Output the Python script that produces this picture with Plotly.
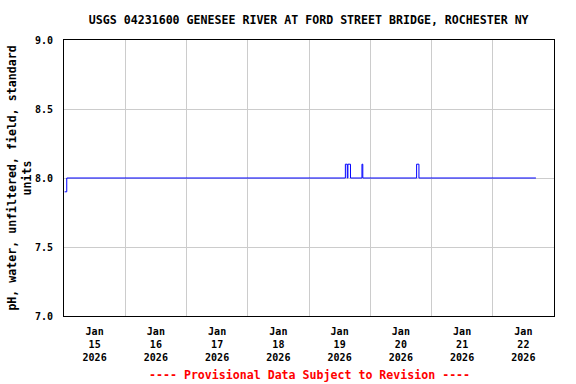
import plotly.graph_objects as go

# Step-change points of the pH record (value holds until next time)
times = [
    "2026-01-15 00:15", "2026-01-15 01:05",
    "2026-01-19 14:15", "2026-01-19 15:00", "2026-01-19 15:15", "2026-01-19 16:15",
    "2026-01-19 20:45", "2026-01-19 21:05",
    "2026-01-20 18:10", "2026-01-20 19:05",
    "2026-01-22 16:55",
]
values = [7.9, 8.0, 8.1, 8.0, 8.1, 8.0, 8.1, 8.0, 8.1, 8.0, 8.0]

tick_vals = ["2026-01-%02d 12:00" % d for d in range(15, 23)]
tick_text = ["Jan<br>%d<br>2026" % d for d in range(15, 23)]

title_text = "USGS 04231600 GENESEE RIVER AT FORD STREET BRIDGE, ROCHESTER NY"
y_title = "pH, water, unfiltered, field, standard<br>units"
footer = "---- Provisional Data Subject to Revision ----"

mono = "DejaVu Sans Mono"

fig = go.Figure()
fig.add_trace(go.Scatter(
    x=times, y=values, mode="lines", line=dict(color="#0000ff", width=1, shape="hv"),
    hoverinfo="skip", showlegend=False,
))

fig.update_layout(
    width=576, height=384,
    margin=dict(l=64, r=22, t=40, b=68, autoexpand=False),
    paper_bgcolor="white", plot_bgcolor="white",
    title=dict(text=title_text, x=0.536, xanchor="center", y=0.948, yanchor="middle",
               font=dict(family=mono, size=11.6, color="black", weight="bold")),
    annotations=[dict(text=footer, xref="paper", yref="paper", x=0.5, y=-0.212,
                      xanchor="center", yanchor="middle", showarrow=False,
                      font=dict(family=mono, size=11.6, color="#ff0000", weight="bold"))],
)

fig.update_xaxes(
    type="date", range=["2026-01-15 00:00", "2026-01-23 00:00"],
    tickmode="array", tickvals=tick_vals, ticktext=tick_text, ticks="",
    showgrid=False, zeroline=False,
    minor=dict(tick0="2026-01-15", dtick=86400000, showgrid=True, gridcolor="#cccccc", gridwidth=1, ticks=""),
    showline=True, linecolor="black", linewidth=1, mirror=True,
    tickfont=dict(family=mono, size=10, color="black", weight="bold"),
    ticklabelstandoff=6,
)
fig.update_yaxes(
    range=[7.0, 9.0], tickmode="linear", tick0=7.0, dtick=0.5, tickformat=".1f",
    showgrid=True, gridcolor="#cccccc", gridwidth=1, zeroline=False,
    showline=True, linecolor="black", linewidth=1, mirror=True, ticks="",
    tickfont=dict(family=mono, size=10, color="black", weight="bold"),
    ticklabelstandoff=8,
    title=dict(text=y_title, font=dict(family=mono, size=11.6, color="black", weight="bold"), standoff=0),
)

fig.write_html("out.html", config={"displayModeBar": False},
               post_script="document.body.style.margin='0px';")
